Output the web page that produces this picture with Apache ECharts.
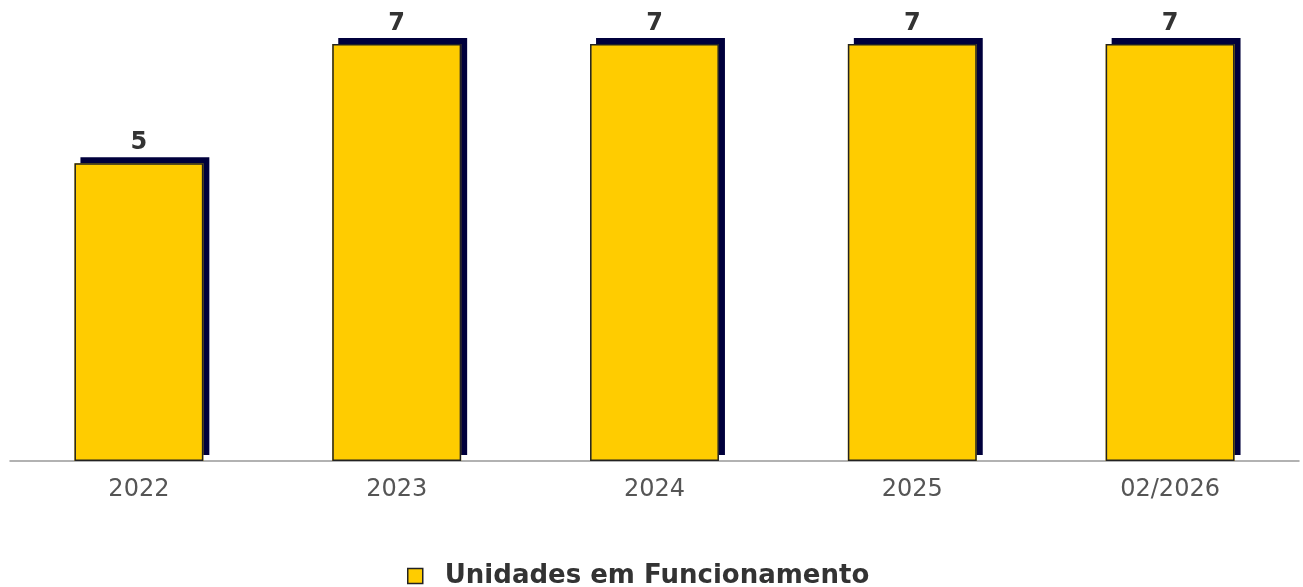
<!DOCTYPE html>
<html>
<head>
<meta charset="utf-8">
<script src="https://cdn.jsdelivr.net/npm/echarts@6/dist/echarts.min.js"></script>
<style>html,body{margin:0;padding:0;background:#fff}#c{width:1303px;height:587px}</style>
</head>
<body>
<div id="c"></div>
<script>
const categories = ['2022', '2023', '2024', '2025', '02/2026'];
const values = [5, 7, 7, 7, 7];
const seriesName = 'Unidades em Funcionamento';
const FONT = "'DejaVu Sans', Verdana, sans-serif";

const chart = echarts.init(document.getElementById('c'));
chart.setOption({
  animation: false,
  textStyle: { fontFamily: FONT },
  grid: { left: 10, right: 4, top: 44, bottom: 126, containLabel: false },
  legend: {
    top: 562,
    left: 407,
    padding: 0,
    itemWidth: 15,
    itemHeight: 15,
    textStyle: { fontFamily: FONT, fontSize: 26, fontWeight: 'bold', color: '#333', lineHeight: 28, padding: [0, 0, 0, 17] },
    data: [{ name: seriesName, icon: 'rect', itemStyle: { color: '#FFCC00', borderColor: '#222', borderWidth: 1.5 } }]
  },
  xAxis: {
    type: 'category',
    data: categories,
    axisLine: { lineStyle: { color: '#999', width: 1.5 } },
    axisTick: { show: false },
    axisLabel: { color: '#555', fontSize: 24, margin: 17, fontFamily: FONT }
  },
  yAxis: {
    type: 'value',
    min: 0,
    max: 7,
    show: false,
    splitLine: { show: false }
  },
  series: [{
    name: seriesName,
    type: 'bar',
    data: values,
    barWidth: '50%',
    itemStyle: {
      color: '#FFCC00',
      borderWidth: 0,
      shadowColor: '#00003c',
      shadowBlur: 0,
      shadowOffsetX: 6,
      shadowOffsetY: -6
    },
    label: {
      show: true,
      position: 'top',
      distance: 8,
      fontFamily: FONT,
      fontSize: 24,
      fontWeight: 'bold',
      color: '#333'
    }
  }, {
    name: seriesName + ' (contorno)',
    type: 'bar',
    data: values,
    barWidth: '50%',
    barGap: '-100%',
    silent: true,
    itemStyle: {
      color: 'rgba(0,0,0,0)',
      borderColor: '#222',
      borderWidth: 1.5
    }
  }]
});
</script>
</body>
</html>
